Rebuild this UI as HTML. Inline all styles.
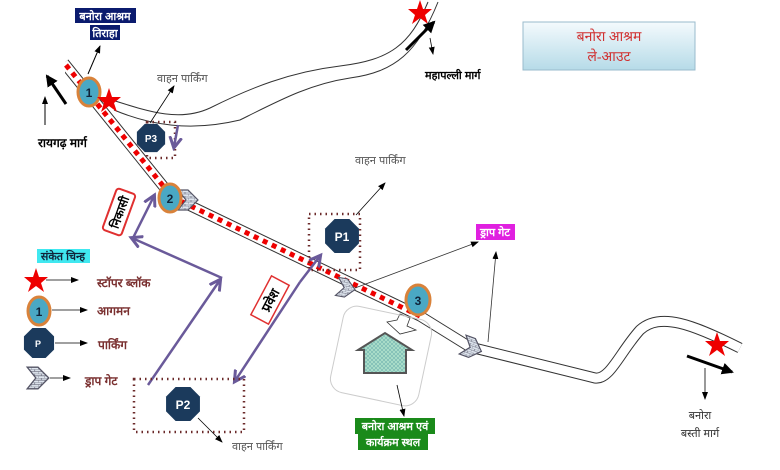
<!DOCTYPE html>
<html><head><meta charset="utf-8"><style>
html,body{margin:0;padding:0;background:#fff;}
svg{display:block;font-family:"Liberation Sans","Noto Sans CJK SC",sans-serif;}
.h{font-family:"Liberation Serif","Noto Serif CJK SC",serif;}
</style></head><body>
<svg width="780" height="470" viewBox="0 0 780 470" xmlns="http://www.w3.org/2000/svg">
<defs>
<marker id="a" markerWidth="8" markerHeight="8" refX="7" refY="4" orient="auto" markerUnits="userSpaceOnUse"><path d="M0,1 L8,4 L0,7z" fill="#000"/></marker>
<marker id="pa" markerWidth="14" markerHeight="14" refX="10" refY="7" orient="auto" markerUnits="userSpaceOnUse"><path d="M0,1 L11,7 L0,13" fill="none" stroke="#6a5a9a" stroke-width="3"/></marker>
<marker id="ba" markerWidth="14" markerHeight="14" refX="10" refY="7" orient="auto" markerUnits="userSpaceOnUse"><path d="M0,1 L12,7 L0,13z" fill="#000"/></marker>
<pattern id="br" width="6" height="4" patternUnits="userSpaceOnUse"><rect width="6" height="4" fill="#dfe6ef"/><path d="M0,0H6M0,2H6M3,0V2M0,2V4" stroke="#667" stroke-width="0.6"/></pattern>
<pattern id="hx" width="4" height="4" patternUnits="userSpaceOnUse"><rect width="4" height="4" fill="#a8dcc8"/><path d="M0,0L4,4M4,0L0,4" stroke="#6aa" stroke-width="0.5"/></pattern>
<linearGradient id="tg" x1="0" y1="0" x2="0" y2="1"><stop offset="0" stop-color="#f4fafd"/><stop offset="1" stop-color="#b6dbe8"/></linearGradient>
<symbol id="gate" viewBox="0 0 24 24"><path d="M2,2 L12,2 L22,12 L12,22 L2,22 L10,12z" fill="url(#br)" stroke="#556" stroke-width="1.2"/></symbol>
<symbol id="oct" viewBox="0 0 34 34"><path d="M10,1H24L33,10V24L24,33H10L1,24V10z" fill="#1b3a5c"/></symbol>
</defs>

<!-- upper road to mahapalli -->
<path d="M112,100 C150,112 180,122 210,108 C250,88 290,72 340,66 C390,60 410,45 428,2" fill="none" stroke="#333" stroke-width="1"/>
<path d="M114,110 C150,125 190,132 240,120 C280,100 310,84 350,78 C395,72 418,52 438,2" fill="none" stroke="#333" stroke-width="1"/>

<!-- main road -->
<path d="M64,63 L172,197 L420,316 L470,347 L595,378 C610,380 620,352 640,330 C660,312 692,324 740,348" fill="none" stroke="#333" stroke-width="11" stroke-linejoin="round"/>
<path d="M64,63 L172,197 L420,316 L470,347 L595,378 C610,380 620,352 640,330 C660,312 692,324 740,348" fill="none" stroke="#fff" stroke-width="9" stroke-linejoin="round"/>
<rect x="55" y="50" width="10" height="30" fill="#fff"/>
<path d="M66,65 L172,197 L420,316" fill="none" stroke="#e00" stroke-width="5" stroke-dasharray="5,5"/>

<!-- title -->
<rect x="523" y="22" width="172" height="48" fill="url(#tg)" stroke="#9bc" stroke-width="1"/>
<text x="609" y="41" text-anchor="middle" font-size="14" fill="#d03030" class="h">बनोरा आश्रम</text>
<text x="609" y="61" text-anchor="middle" font-size="14" fill="#d03030" class="h">ले-आउट</text>

<!-- top labels -->
<rect x="75" y="8" width="61" height="15" fill="#0b1b6e"/>
<text x="105" y="20" text-anchor="middle" font-size="11" font-weight="bold" fill="#fff">बनोरा आश्रम</text>
<rect x="90" y="25" width="30" height="15" fill="#0b1b6e"/>
<text x="105" y="37" text-anchor="middle" font-size="11" font-weight="bold" fill="#fff">तिराहा</text>
<line x1="88" y1="74" x2="100" y2="46" stroke="#000" marker-end="url(#a)"/>
<line x1="66" y1="104" x2="47" y2="76" stroke="#000" stroke-width="3" marker-end="url(#ba)"/>
<line x1="45" y1="125" x2="45" y2="97" stroke="#000" marker-end="url(#a)"/>
<text x="38" y="147" font-size="12" font-weight="bold">रायगढ़ मार्ग</text>

<!-- circle 1, star -->
<ellipse cx="89" cy="92" rx="11" ry="14" fill="#4aa8c4" stroke="#d9823a" stroke-width="3"/>
<text x="89" y="97" text-anchor="middle" font-size="12" font-weight="bold" fill="#10243a">1</text>
<path d="M109,88 L112,97 L121,97 L114,103 L117,112 L109,106 L101,112 L104,103 L97,97 L106,97z" fill="#e00"/>

<!-- P3 -->
<text x="157" y="82" font-size="11" fill="#555">वाहन पार्किंग</text>
<line x1="150" y1="123" x2="174" y2="86" stroke="#000" stroke-width="0.8" marker-end="url(#a)"/>
<rect x="147" y="122" width="28" height="36" fill="none" stroke="#6b2a2a" stroke-width="2.5" stroke-dasharray="1.5,4"/>
<use href="#oct" x="135" y="123" width="32" height="30"/>
<text x="151" y="142" text-anchor="middle" font-size="10" font-weight="bold" fill="#fff">P3</text>
<line x1="178" y1="125" x2="174" y2="147" stroke="#6a5a9a" stroke-width="2.5" marker-end="url(#pa)"/>

<!-- circle 2 and gate -->
<use href="#gate" x="176" y="185" width="24" height="30"/>
<ellipse cx="170" cy="198" rx="11" ry="14" fill="#4aa8c4" stroke="#d9823a" stroke-width="3"/>
<text x="170" y="203" text-anchor="middle" font-size="12" font-weight="bold" fill="#10243a">2</text>

<!-- nikasi -->
<g transform="translate(119,212) rotate(-70)">
<rect x="-22" y="-10" width="44" height="20" rx="3" fill="#fff" stroke="#e03030" stroke-width="2"/>
<text x="0" y="5" text-anchor="middle" font-size="12" font-weight="bold">निकासी</text>
</g>
<line x1="148" y1="385" x2="220" y2="280" stroke="#6a5a9a" stroke-width="2.5" marker-end="url(#pa)"/>
<line x1="222" y1="278" x2="132" y2="238" stroke="#6a5a9a" stroke-width="2.5" marker-end="url(#pa)"/>
<line x1="132" y1="240" x2="154" y2="196" stroke="#6a5a9a" stroke-width="2.5" marker-end="url(#pa)"/>

<!-- pravesh -->
<line x1="300" y1="282" x2="320" y2="256" stroke="#6a5a9a" stroke-width="2.5" marker-end="url(#pa)"/>
<line x1="300" y1="282" x2="235" y2="381" stroke="#6a5a9a" stroke-width="2.5" marker-end="url(#pa)"/>
<g transform="translate(270,300) rotate(-62)">
<rect x="-22" y="-10" width="44" height="20" fill="#fff" stroke="#e03030" stroke-width="1.5"/>
<text x="0" y="5" text-anchor="middle" font-size="13" font-weight="bold">प्रवेश</text>
</g>

<!-- P1 -->
<text x="355" y="164" font-size="11" fill="#555">वाहन पार्किंग</text>
<line x1="356" y1="215" x2="385" y2="183" stroke="#000" stroke-width="0.8" marker-end="url(#a)"/>
<rect x="309" y="214" width="51" height="56" fill="none" stroke="#6b2a2a" stroke-width="2.5" stroke-dasharray="1.5,4"/>
<use href="#oct" x="322" y="218" width="40" height="36"/>
<text x="342" y="241" text-anchor="middle" font-size="12" font-weight="bold" fill="#fff">P1</text>

<!-- gate near P1 -->
<line x1="355" y1="288" x2="478" y2="242" stroke="#333" stroke-width="0.8" marker-end="url(#a)"/>
<use href="#gate" x="333" y="277" width="26" height="22" transform="rotate(10 346 288)"/>
<rect x="476" y="224" width="39" height="16" fill="#e020e0"/>
<text x="495" y="236" text-anchor="middle" font-size="11" font-weight="bold" fill="#fff">ड्राप गेट</text>

<!-- circle 3 -->
<ellipse cx="418" cy="300" rx="12" ry="15" fill="#4aa8c4" stroke="#d9823a" stroke-width="3"/>
<text x="418" y="305" text-anchor="middle" font-size="12" font-weight="bold" fill="#10243a">3</text>
<path d="M387,322 L397,320 L400,314 L410,318 L407,326 L416,330 L400,334z" fill="#fff" stroke="#333" stroke-width="0.8"/>

<!-- venue box -->
<rect x="336" y="312" width="90" height="88" rx="14" fill="none" stroke="#ccc" stroke-width="1" transform="rotate(12 381 356)"/>
<path d="M358,350 L385,333 L412,350 L406,350 L406,373 L364,373 L364,350z" fill="url(#hx)" stroke="#555" stroke-width="2"/>
<line x1="397" y1="385" x2="404" y2="416" stroke="#000" stroke-width="0.8" marker-end="url(#a)"/>
<rect x="355" y="418" width="80" height="16" fill="#1a8a1a"/>
<text x="395" y="430" text-anchor="middle" font-size="11" font-weight="bold" fill="#fff">बनोरा आश्रम एवं</text>
<rect x="358" y="434" width="70" height="16" fill="#1a8a1a"/>
<text x="393" y="446" text-anchor="middle" font-size="11" font-weight="bold" fill="#fff">कार्यक्रम स्थल</text>

<!-- gate 4 -->
<line x1="488" y1="342" x2="496" y2="252" stroke="#333" stroke-width="0.8" marker-end="url(#a)"/>
<use href="#gate" x="458" y="336" width="28" height="24" transform="rotate(20 472 348)"/>

<!-- bottom right -->
<path d="M717,332 L720,341 L729,341 L722,347 L725,356 L717,350 L709,356 L712,347 L705,341 L714,341z" fill="#e00"/>
<line x1="687" y1="356" x2="732" y2="372" stroke="#000" stroke-width="3" marker-end="url(#ba)"/>
<line x1="705" y1="368" x2="705" y2="399" stroke="#000" stroke-width="0.8" marker-end="url(#a)"/>
<text x="700" y="419" text-anchor="middle" font-size="11" fill="#333">बनोरा</text>
<text x="700" y="437" text-anchor="middle" font-size="11" fill="#333">बस्ती मार्ग</text>

<!-- top right -->
<path d="M420,0 L423,9 L432,9 L425,15 L428,24 L420,18 L412,24 L415,15 L408,9 L417,9z" fill="#e00"/>
<line x1="406" y1="50" x2="434" y2="22" stroke="#000" stroke-width="3" marker-end="url(#ba)"/>
<line x1="430" y1="38" x2="433" y2="54" stroke="#000" stroke-width="0.8" marker-end="url(#a)"/>
<text x="425" y="79" font-size="11" font-weight="bold">महापल्ली मार्ग</text>

<!-- legend -->
<rect x="37" y="249" width="53" height="14" fill="#40e8f0"/>
<text x="63" y="260" text-anchor="middle" font-size="11" font-weight="bold" fill="#10243a">संकेत चिन्ह</text>
<path d="M36,268 L39,277 L48,277 L41,283 L44,292 L36,286 L28,292 L31,283 L24,277 L33,277z" fill="#e00"/>
<line x1="46" y1="280" x2="78" y2="280" stroke="#000" stroke-width="0.8" marker-end="url(#a)"/>
<text x="97" y="287" font-size="12" font-weight="bold" fill="#7a3030">स्टॉपर ब्लॉक</text>
<ellipse cx="39" cy="311" rx="11" ry="14" fill="#4aa8c4" stroke="#d9823a" stroke-width="3"/>
<text x="39" y="316" text-anchor="middle" font-size="12" font-weight="bold" fill="#10243a">1</text>
<line x1="52" y1="310" x2="87" y2="310" stroke="#000" stroke-width="0.8" marker-end="url(#a)"/>
<text x="97" y="315" font-size="12" font-weight="bold" fill="#7a3030">आगमन</text>
<use href="#oct" x="22" y="327" width="34" height="32"/>
<text x="38" y="347" text-anchor="middle" font-size="9" font-weight="bold" fill="#fff">P</text>
<line x1="55" y1="343" x2="87" y2="343" stroke="#000" stroke-width="0.8" marker-end="url(#a)"/>
<text x="98" y="349" font-size="12" font-weight="bold" fill="#7a3030">पार्किंग</text>
<use href="#gate" x="25" y="364" width="26" height="28"/>
<line x1="50" y1="378" x2="70" y2="378" stroke="#000" stroke-width="0.8" marker-end="url(#a)"/>
<text x="85" y="385" font-size="12" font-weight="bold" fill="#7a3030">ड्राप गेट</text>

<!-- P2 -->
<rect x="134" y="379" width="110" height="53" fill="none" stroke="#6b2a2a" stroke-width="2.5" stroke-dasharray="1.5,4"/>
<use href="#oct" x="163" y="386" width="40" height="36"/>
<text x="183" y="409" text-anchor="middle" font-size="12" font-weight="bold" fill="#fff">P2</text>
<line x1="198" y1="418" x2="222" y2="442" stroke="#000" stroke-width="0.8" marker-end="url(#a)"/>
<text x="232" y="450" font-size="11" fill="#555">वाहन पार्किंग</text>
</svg>
</body></html>
